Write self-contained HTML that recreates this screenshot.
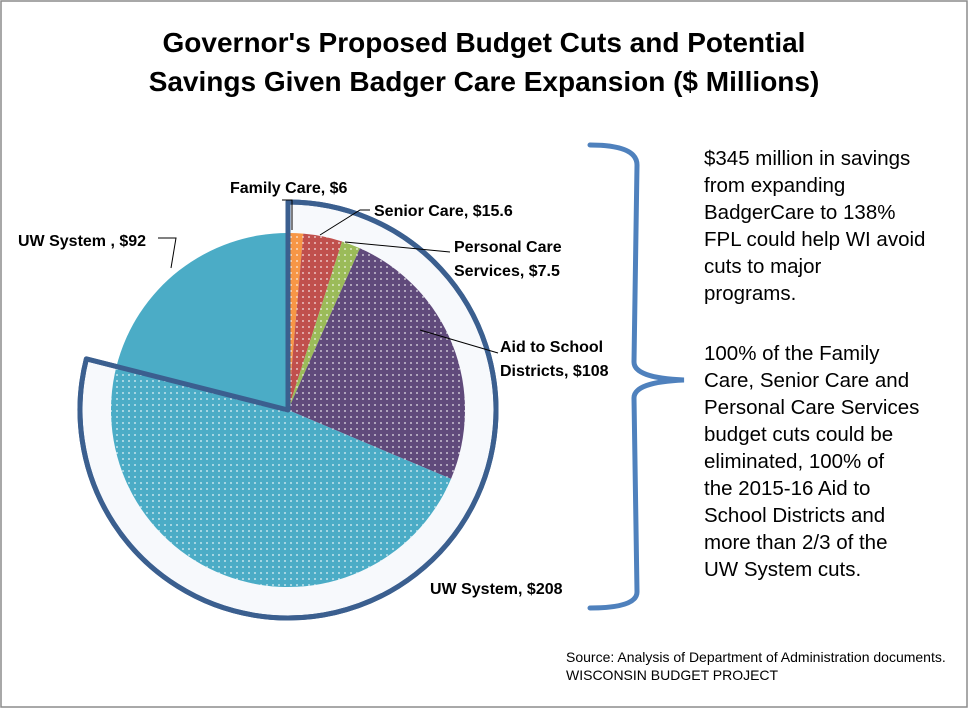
<!DOCTYPE html>
<html><head><meta charset="utf-8"><style>
body{margin:0;background:#fff}
#wrap{position:relative;width:968px;height:708px;overflow:hidden;font-family:"Liberation Sans",sans-serif}
</style></head><body>
<div id="wrap">
<svg width="968" height="708" xmlns="http://www.w3.org/2000/svg">
<defs>
<pattern id="dots" width="6" height="6" patternUnits="userSpaceOnUse"><circle cx="3" cy="3" r="0.9" fill="#fff" opacity="0.85"/></pattern>
</defs>
<rect x="1" y="1" width="966" height="706" fill="#fff" stroke="#8c8c8c" stroke-width="1.5"/>
<text x="484" y="52" text-anchor="middle" font-size="28" font-weight="bold" fill="#000">Governor's Proposed Budget Cuts and Potential</text>
<text x="484" y="91" text-anchor="middle" font-size="28" font-weight="bold" fill="#000">Savings Given Badger Care Expansion ($ Millions)</text>
<g id="pie"></g>
<path d="M590 145 Q637 145 637 165 L634 362 Q634 378 684 380 Q634 382 634 398 L637 592 Q637 608 590 608" fill="none" stroke="#4f81bd" stroke-width="5" stroke-linecap="round"/>
<g font-size="20.5" fill="#000">
<text x="704" y="165">$345 million in savings</text>
<text x="704" y="192">from expanding</text>
<text x="704" y="219">BadgerCare to 138%</text>
<text x="704" y="246">FPL could help WI avoid</text>
<text x="704" y="273">cuts to major</text>
<text x="704" y="300">programs.</text>
<text x="704" y="360">100% of the Family</text>
<text x="704" y="387">Care, Senior Care and</text>
<text x="704" y="414">Personal Care Services</text>
<text x="704" y="441">budget cuts could be</text>
<text x="704" y="468">eliminated,  100% of</text>
<text x="704" y="495">the  2015-16 Aid to</text>
<text x="704" y="522">School Districts and</text>
<text x="704" y="549">more than 2/3 of the</text>
<text x="704" y="576">UW System cuts.</text>
</g>
<text x="566" y="662" font-size="14" fill="#000">Source: Analysis of Department of Administration documents.</text>
<text x="566" y="680" font-size="14" fill="#000">WISCONSIN BUDGET PROJECT</text>
</svg>
</div>
<script>
const categories=["Family Care","Senior Care","Personal Care Services","Aid to School Districts","UW System","UW System "];
const values=[6,15.6,7.5,108,208,92];
const labels=["Family Care, $6","Senior Care, $15.6","Personal Care|Services, $7.5","Aid to School|Districts, $108","UW System, $208","UW System , $92"];
const colors=["#f79646","#c0504d","#9bbb59","#604a7b","#4bacc6","#4bacc6"];
const NS="http://www.w3.org/2000/svg";
const g=document.getElementById('pie');
const cx=288,cy=410,r=177,R=208;
const total=values.reduce((a,b)=>a+b,0);
function pt(a,rad){return [cx+rad*Math.sin(a),cy-rad*Math.cos(a)];}
function sector(a0,a1,rad){const p0=pt(a0,rad),p1=pt(a1,rad);const lg=(a1-a0)>Math.PI?1:0;
return `M${cx} ${cy} L${p0[0]} ${p0[1]} A${rad} ${rad} 0 ${lg} 1 ${p1[0]} ${p1[1]} Z`;}
let sum5=values.slice(0,5).reduce((a,b)=>a+b,0);
const outline=document.createElementNS(NS,'path');
outline.setAttribute('d',sector(0,sum5/total*2*Math.PI,R));
outline.setAttribute('fill','#f7f9fc');outline.setAttribute('stroke','#3b5f8f');outline.setAttribute('stroke-width','5');outline.setAttribute('stroke-linejoin','round');


g.appendChild(outline);
let acc=0;
values.forEach((v,i)=>{
 const a0=acc/total*2*Math.PI;acc+=v;const a1=acc/total*2*Math.PI;
 const p=document.createElementNS(NS,'path');
 p.setAttribute('d',sector(a0,a1,r));p.setAttribute('fill',colors[i]);
 
 
 g.appendChild(p);
 if(i<5){const d=document.createElementNS(NS,'path');d.setAttribute('d',sector(a0,a1,r));d.setAttribute('fill','url(#dots)');
 
 
 g.appendChild(d);}
});
const edge=document.createElementNS(NS,'path');
edge.setAttribute('d',sector(0,sum5/total*2*Math.PI,R));
edge.setAttribute('fill','none');edge.setAttribute('stroke','#3b5f8f');edge.setAttribute('stroke-width','5');edge.setAttribute('stroke-linejoin','round');


g.appendChild(edge);
const lab=[{x:230,y:193,lx:[[292,230],[292,200],[282,200]]},
{x:374,y:216,lx:[[320,235],[360,210],[370,210]]},
{x:454,y:252,lx:[[345,242],[450,252]]},
{x:500,y:352,lx:[[420,330],[498,353]]},
{x:430,y:594,lx:[]},
{x:18,y:246,lx:[[158,238],[176,238],[171,268]]}];
labels.forEach((t,i)=>{
 const L=lab[i];
 if(L.lx.length){const pl=document.createElementNS(NS,'polyline');pl.setAttribute('points',L.lx.map(q=>q.join(',')).join(' '));pl.setAttribute('fill','none');pl.setAttribute('stroke','#000');pl.setAttribute('stroke-width','1');
 
 
 g.appendChild(pl);}
 t.split('|').forEach((line,j)=>{const tx=document.createElementNS(NS,'text');tx.setAttribute('x',L.x);tx.setAttribute('y',L.y+j*24);tx.setAttribute('font-size','16');tx.setAttribute('font-weight','bold');tx.textContent=line;
 
 
 g.appendChild(tx);});
});
</script>
</body></html>
